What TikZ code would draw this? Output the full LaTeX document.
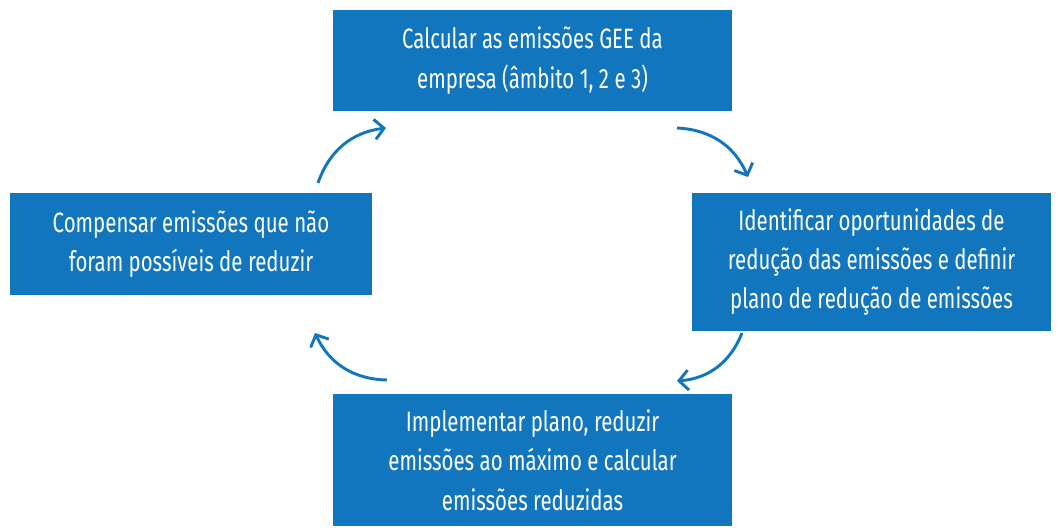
\documentclass[tikz,border=0pt]{standalone}
\usepackage{fontspec}
\setmainfont{Fira Sans}[FakeStretch=0.73]
\usetikzlibrary{arrows.meta}
\definecolor{boxblue}{HTML}{1176BD}
\tikzset{
  stepbox/.style={fill=boxblue, text=white, inner sep=0pt, align=center,
    font=\fontsize{21pt}{29.5pt}\selectfont},
  cyc/.style={draw=boxblue, line width=2.2pt, bend left=32,
    -{Straight Barb[length=7pt,width=15pt,line width=2.2pt]}}
}
\begin{document}
\begin{tikzpicture}[x=0.75pt,y=-0.75pt]
\useasboundingbox (0,0) rectangle (1057,529);
\node[stepbox, minimum width=399*0.75pt, minimum height=101*0.75pt] (top) at (532.5,60.5)
  {Calcular as emissões GEE da\\empresa (âmbito 1, 2 e 3)};
\node[stepbox, minimum width=359*0.75pt, minimum height=138*0.75pt] (right) at (871.5,262)
  {Identificar oportunidades de\\redução das emissões e definir\\plano de redução de emissões};
\node[stepbox, minimum width=399*0.75pt, minimum height=132*0.75pt] (bottom) at (532.5,460)
  {Implementar plano, reduzir\\emissões ao máximo e calcular\\emissões reduzidas};
\node[stepbox, minimum width=362*0.75pt, minimum height=102*0.75pt] (left) at (191,244)
  {Compensar emissões que não\\foram possíveis de reduzir};
\coordinate (a1s) at (318,183); \coordinate (a1e) at (386,128);
\coordinate (a2s) at (677,128); \coordinate (a2e) at (748,177);
\coordinate (a3s) at (742,333); \coordinate (a3e) at (677,381);
\coordinate (a4s) at (387,380); \coordinate (a4e) at (315,333);
\draw[cyc] (a1s) to (a1e);
\draw[cyc] (a2s) to (a2e);
\draw[cyc] (a3s) to (a3e);
\draw[cyc] (a4s) to (a4e);
\end{tikzpicture}
\end{document}
